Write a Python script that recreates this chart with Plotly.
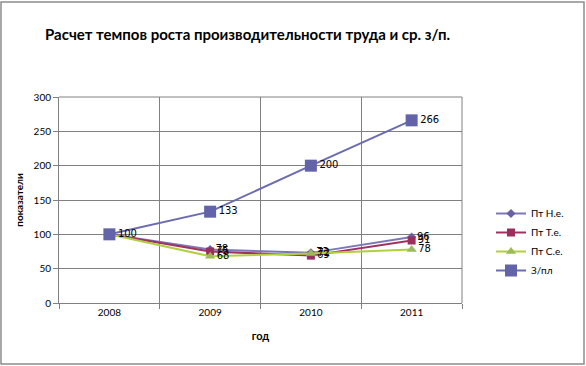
import plotly.graph_objects as go

years = ["2008", "2009", "2010", "2011"]
pt_ne = [100, 78, 73, 96]
pt_te = [100, 75, 69, 91]
pt_se = [100, 68, 72, 78]
zpl = [100, 133, 200, 266]

W, H = 586, 366
L, R, T, B = 59, 462, 97, 303
pw, ph = R - L, B - T

def px(x):
    return (x - L) / pw

def py(y):
    return (B - y) / ph

xs = list(range(len(years)))
font = "Lato, Carlito, sans-serif"

fig = go.Figure()
series = [
    ("Пт Н.е.", pt_ne, "#7C78B8", "#6A5FA6", "diamond", 7),
    ("Пт Т.е.", pt_te, "#A03262", "#9A2F5E", "square", 8),
    ("Пт С.е.", pt_se, "#B0D040", "#9BBB59", "triangle-up", 9),
    ("З/пл", zpl, "#6B6BB0", "#6363AA", "square", 12),
]
for i, (name, vals, lc, mc, sym, sz) in enumerate(series):
    labels = [str(v) for v in vals]
    if i < len(series) - 1:
        labels[0] = ""  # identical "100" labels coincide at the first point
    fig.add_trace(go.Scatter(
        x=xs, y=vals, name=name, mode="lines+markers+text",
        text=labels, textposition="middle right",
        textfont=dict(size=10, color="#000000", family="DejaVu Sans"),
        line=dict(color=lc, width=2),
        marker=dict(symbol=sym, size=sz, color=mc, line=dict(width=0)),
        cliponaxis=False,
    ))

fig.update_layout(
    width=W, height=H,
    margin=dict(l=L, r=W - R, t=T, b=H - B, autoexpand=False),
    paper_bgcolor="white", plot_bgcolor="white",
    font=dict(family=font, size=10, color="#000000"),
    showlegend=True,
    legend=dict(x=px(491), y=py(199), xanchor="left", yanchor="top",
                font=dict(size=10, family=font), bgcolor="rgba(0,0,0,0)",
                tracegroupgap=0, itemwidth=30),
    xaxis=dict(range=[-0.5, 3.5], tickvals=xs, ticktext=years, ticks="",
               showgrid=False, showline=True, linecolor="#808080", linewidth=1,
               zeroline=False, tickfont=dict(size=10), automargin=False,
               minor=dict(tickvals=[-0.5, 0.5, 1.5, 2.5, 3.5], showgrid=True,
                          gridcolor="#808080", gridwidth=1, ticks="outside",
                          ticklen=5, tickcolor="#808080"),
               title=dict(text="<b>год</b>", font=dict(size=11), standoff=15)),
    yaxis=dict(range=[0, 300], dtick=50, showgrid=True, gridcolor="#808080",
               gridwidth=1, showline=True, linecolor="#808080", linewidth=1,
               ticks="outside", ticklen=5, tickcolor="#808080", zeroline=False,
               tickfont=dict(size=10), automargin=False,
               title=dict(text="<b>показатели</b>", font=dict(size=10), standoff=8)),
    title=dict(text="<b>Расчет темпов роста производительности труда и ср. з/п.</b>",
               x=45 / W, xanchor="left", y=1 - 35 / H, yanchor="middle",
               font=dict(size=15, family=font, color="#000000")),
)
fig.add_shape(type="line", xref="paper", yref="paper", x0=1, x1=1, y0=0, y1=1,
              line=dict(color="#808080", width=1))
fig.add_shape(type="line", xref="paper", yref="paper", x0=0, x1=1, y0=1, y1=1,
              line=dict(color="#808080", width=1))
fig.add_shape(type="rect", xref="paper", yref="paper",
              x0=px(1), x1=px(584), y0=py(364), y1=py(2),
              line=dict(color="#8C8C8C", width=1.5), fillcolor="rgba(0,0,0,0)")

fig.write_html("out.html", config={"displayModeBar": False},
               post_script="document.body.style.margin='0';document.body.style.overflow='hidden';")
